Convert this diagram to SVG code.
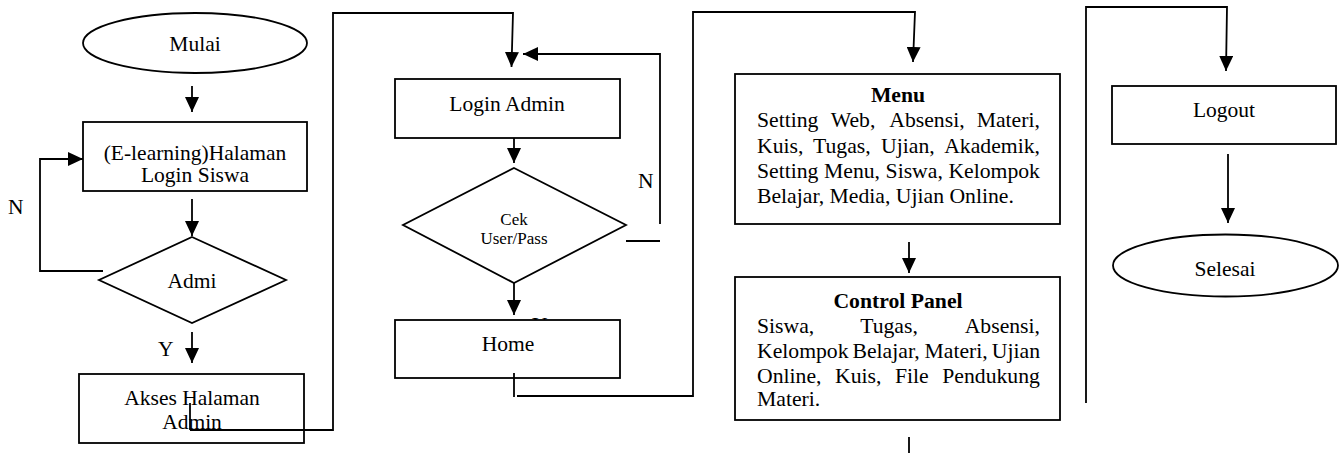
<svg xmlns="http://www.w3.org/2000/svg" width="1343" height="453" viewBox="0 0 1343 453">
<defs>
<style>
.s{fill:#fff;stroke:#000;stroke-width:1.8}
.c{fill:none;stroke:#000;stroke-width:1.8}
.t{font-family:"Liberation Serif","Times New Roman",serif;font-size:21.5px;fill:#000}
.j{font-size:21.7px}
.m{text-anchor:middle}
.sm{font-size:17px}
.b{font-weight:bold}
</style>
<marker id="ah" markerUnits="userSpaceOnUse" markerWidth="16" markerHeight="14" refX="15" refY="7" orient="auto">
<path d="M0,0 L15,7 L0,14 z" fill="#000"/>
</marker>
</defs>
<rect width="1343" height="453" fill="#fff"/>
<g id="labels">
<text class="t" x="8" y="214">N</text>
<text class="t" x="158" y="356">Y</text>
<text class="t" x="638" y="188">N</text>
<text class="t" x="532" y="332">Y</text>
</g>
<g id="connectors">
<line class="c" x1="192" y1="86" x2="192" y2="112" marker-end="url(#ah)"/>
<line class="c" x1="192" y1="199" x2="192" y2="236" marker-end="url(#ah)"/>
<polyline class="c" points="103,271 40,271 40,159 83,159" marker-end="url(#ah)"/>
<line class="c" x1="192" y1="332" x2="192" y2="363" marker-end="url(#ah)"/>
<polyline class="c" points="190,403 190,430 333,430 333,13 513,13 511.5,67" marker-end="url(#ah)"/>
<line class="c" x1="626" y1="241" x2="660" y2="241"/>
<polyline class="c" points="660,224 660,54 523,54" marker-end="url(#ah)"/>
<line class="c" x1="514" y1="138" x2="514" y2="163" marker-end="url(#ah)"/>
<line class="c" x1="514" y1="283" x2="514" y2="315" marker-end="url(#ah)"/>
<line class="c" x1="514" y1="373" x2="514" y2="397"/>
<polyline class="c" points="517,396 693,396 693,12 915,12 913,62" marker-end="url(#ah)"/>
<line class="c" x1="909" y1="242" x2="909" y2="273" marker-end="url(#ah)"/>
<line class="c" x1="909" y1="437" x2="909" y2="453"/>
<polyline class="c" points="1086,403 1086,7 1227,7 1226,71" marker-end="url(#ah)"/>
<line class="c" x1="1228" y1="154" x2="1228" y2="223" marker-end="url(#ah)"/>
</g>
<g id="mulai">
<ellipse class="s" cx="195" cy="43" rx="112" ry="30"/>
<text class="t m" x="195" y="51">Mulai</text>
</g>
<g id="login-siswa">
<rect class="s" x="83" y="122" width="224" height="69"/>
<text class="t m" x="195" y="160">(E-learning)Halaman</text>
<text class="t m" x="195" y="182">Login Siswa</text>
</g>
<g id="admi">
<polygon class="s" points="192,237 286,280 192,323 99,280"/>
<text class="t m" x="192" y="288">Admi</text>
</g>
<g id="akses-admin">
<rect class="s" x="79" y="374" width="225" height="69"/>
<text class="t m" x="192" y="405">Akses Halaman</text>
<text class="t m" x="192" y="429">Admin</text>
</g>
<g id="login-admin">
<rect class="s" x="395" y="79" width="225" height="59"/>
<text class="t m" x="507" y="111">Login Admin</text>
</g>
<g id="cek">
<polygon class="s" points="514,168 626,225 514,283 403,225"/>
<text class="t m sm" x="514" y="225">Cek</text>
<text class="t m sm" x="514" y="244">User/Pass</text>
</g>
<g id="home">
<rect class="s" x="395" y="320" width="225" height="58"/>
<text class="t m" x="508" y="351">Home</text>
</g>
<g id="connector-overlays">
<line class="c" x1="514" y1="373" x2="514" y2="378"/>
<line class="c" x1="190" y1="403" x2="190" y2="430"/>
<line class="c" x1="190" y1="430" x2="304" y2="430"/>
</g>
<g id="menu">
<rect class="s" x="735" y="74" width="325" height="150"/>
<text class="t j m b" x="898" y="102">Menu</text>
<text class="t j" y="127"><tspan x="757">Setting</tspan><tspan x="830.7">Web,</tspan><tspan x="889.3">Absensi,</tspan><tspan x="976.7">Materi,</tspan></text>
<text class="t j" y="153"><tspan x="757">Kuis,</tspan><tspan x="813">Tugas,</tspan><tspan x="881.1">Ujian,</tspan><tspan x="944.2">Akademik,</tspan></text>
<text class="t j" y="178"><tspan x="757">Setting</tspan><tspan x="824">Menu,</tspan><tspan x="885.6">Siswa,</tspan><tspan x="948.4">Kelompok</tspan></text>
<text class="t j" x="757" y="203">Belajar, Media, Ujian Online.</text>
</g>
<g id="control-panel">
<rect class="s" x="735" y="277" width="325" height="143"/>
<text class="t j m b" x="898" y="308">Control Panel</text>
<text class="t j" y="333"><tspan x="757">Siswa,</tspan><tspan x="860.2">Tugas,</tspan><tspan x="964.7">Absensi,</tspan></text>
<text class="t j" y="358"><tspan x="757">Kelompok</tspan><tspan x="852.5">Belajar,</tspan><tspan x="924.5">Materi,</tspan><tspan x="991.8">Ujian</tspan></text>
<text class="t j" y="383"><tspan x="757">Online,</tspan><tspan x="835">Kuis,</tspan><tspan x="894.9">File</tspan><tspan x="942.3">Pendukung</tspan></text>
<text class="t j" x="757" y="406">Materi.</text>
</g>
<g id="logout">
<rect class="s" x="1112" y="86" width="224" height="58"/>
<text class="t m" x="1224" y="117">Logout</text>
</g>
<g id="selesai">
<ellipse class="s" cx="1225.5" cy="265.5" rx="112.5" ry="31"/>
<text class="t m" x="1225" y="276">Selesai</text>
</g>
</svg>
